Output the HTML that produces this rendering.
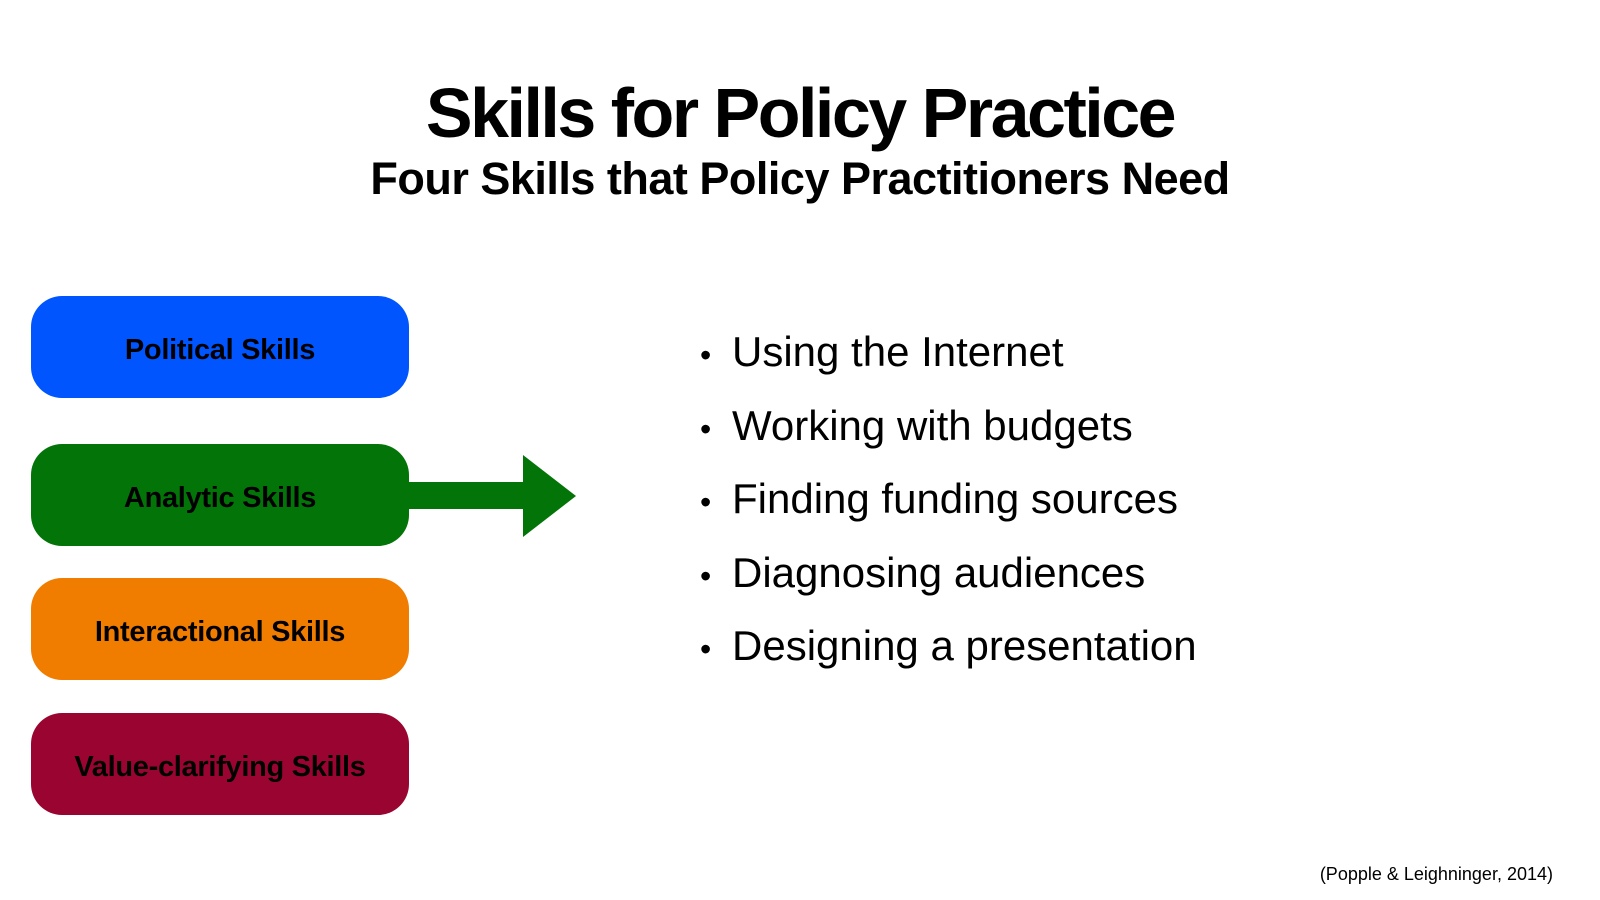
<!DOCTYPE html>
<html><head><meta charset="utf-8">
<style>
html,body{margin:0;padding:0;background:#fff;}
body{width:1600px;height:900px;position:relative;overflow:hidden;font-family:"Liberation Sans",sans-serif;color:#000;}
.abs{position:absolute;}
#title{left:0;width:1600px;top:73px;text-align:center;font-size:70px;font-weight:bold;letter-spacing:-2.5px;}
#subtitle{left:0;width:1600px;top:153px;text-align:center;font-size:45px;font-weight:bold;letter-spacing:-0.5px;}
.box{left:31px;width:378px;height:96px;padding-top:6px;border-radius:31px;display:flex;align-items:center;justify-content:center;font-size:29px;font-weight:bold;letter-spacing:-0.3px;}
.bullet{left:700px;font-size:42px;line-height:48px;white-space:nowrap;}
.bullet span.dot{display:inline-block;width:32px;font-size:32px;}
#cite{right:47px;top:864px;font-size:18px;}
</style></head><body>
<div id="title" class="abs">Skills for Policy Practice</div>
<div id="subtitle" class="abs">Four Skills that Policy Practitioners Need</div>

<div class="abs box" style="top:296px;background:#0055ff;">Political Skills</div>
<div class="abs box" style="top:444px;background:#037408;">Analytic Skills</div>
<div class="abs box" style="top:578px;background:#f07d00;">Interactional Skills</div>
<div class="abs box" style="top:713px;background:#990530;">Value-clarifying Skills</div>

<svg class="abs" style="left:0;top:0" width="1600" height="900">
  <polygon points="405,482 523,482 523,455 576,496 523,537 523,509 405,509" fill="#037408"/>
</svg>

<div class="abs bullet" style="top:328px;"><span class="dot">•</span>Using the Internet</div>
<div class="abs bullet" style="top:401.5px;"><span class="dot">•</span>Working with budgets</div>
<div class="abs bullet" style="top:475px;"><span class="dot">•</span>Finding funding sources</div>
<div class="abs bullet" style="top:548.5px;"><span class="dot">•</span>Diagnosing audiences</div>
<div class="abs bullet" style="top:622px;"><span class="dot">•</span>Designing a presentation</div>

<div id="cite" class="abs">(Popple &amp; Leighninger, 2014)</div>
</body></html>
